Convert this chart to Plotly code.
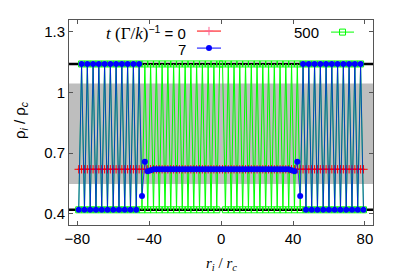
import plotly.graph_objects as go

# positions r_i / r_c
r = [
    -79.2, -77.6, -76.0, -74.4, -72.8, -71.2, -69.6, -68.0, -66.4, -64.8,
    -63.2, -61.6, -60.0, -58.4, -56.8, -55.2, -53.6, -52.0, -50.4, -48.8,
    -47.2, -45.6, -44.0, -42.4, -40.8, -39.2, -37.6, -36.0, -34.4, -32.8,
    -31.2, -29.6, -28.0, -26.4, -24.8, -23.2, -21.6, -20.0, -18.4, -16.8,
    -15.2, -13.6, -12.0, -10.4, -8.8, -7.2, -5.6, -4.0, -2.4, -0.8,
    0.8, 2.4, 4.0, 5.6, 7.2, 8.8, 10.4, 12.0, 13.6, 15.2,
    16.8, 18.4, 20.0, 21.6, 23.2, 24.8, 26.4, 28.0, 29.6, 31.2,
    32.8, 34.4, 36.0, 37.6, 39.2, 40.8, 42.4, 44.0, 45.6, 47.2,
    48.8, 50.4, 52.0, 53.6, 55.2, 56.8, 58.4, 60.0, 61.6, 63.2,
    64.8, 66.4, 68.0, 69.6, 71.2, 72.8, 74.4, 76.0, 77.6, 79.2,
]

# t = 0
rho_t0 = [
    0.62, 0.62, 0.62, 0.62, 0.62, 0.62, 0.62, 0.62, 0.62, 0.62,
    0.62, 0.62, 0.62, 0.62, 0.62, 0.62, 0.62, 0.62, 0.62, 0.62,
    0.62, 0.62, 0.62, 0.62, 0.62, 0.62, 0.62, 0.62, 0.62, 0.62,
    0.62, 0.62, 0.62, 0.62, 0.62, 0.62, 0.62, 0.62, 0.62, 0.62,
    0.62, 0.62, 0.62, 0.62, 0.62, 0.62, 0.62, 0.62, 0.62, 0.62,
    0.62, 0.62, 0.62, 0.62, 0.62, 0.62, 0.62, 0.62, 0.62, 0.62,
    0.62, 0.62, 0.62, 0.62, 0.62, 0.62, 0.62, 0.62, 0.62, 0.62,
    0.62, 0.62, 0.62, 0.62, 0.62, 0.62, 0.62, 0.62, 0.62, 0.62,
    0.62, 0.62, 0.62, 0.62, 0.62, 0.62, 0.62, 0.62, 0.62, 0.62,
    0.62, 0.62, 0.62, 0.62, 0.62, 0.62, 0.62, 0.62, 0.62, 0.62,
]

# t = 7
rho_t7 = [
    0.42, 1.14, 0.42, 1.14, 0.42, 1.14, 0.42, 1.14, 0.42, 1.14,
    0.42, 1.14, 0.42, 1.14, 0.42, 1.14, 0.42, 1.14, 0.42, 1.14,
    0.42, 1.14, 0.488, 0.657, 0.61, 0.615, 0.62, 0.62, 0.62, 0.62,
    0.62, 0.62, 0.62, 0.62, 0.62, 0.62, 0.62, 0.62, 0.62, 0.62,
    0.62, 0.62, 0.62, 0.62, 0.62, 0.62, 0.62, 0.62, 0.62, 0.62,
    0.62, 0.62, 0.62, 0.62, 0.62, 0.62, 0.62, 0.62, 0.62, 0.62,
    0.62, 0.62, 0.62, 0.62, 0.62, 0.62, 0.62, 0.62, 0.62, 0.62,
    0.62, 0.62, 0.62, 0.62, 0.615, 0.61, 0.657, 0.488, 1.14, 0.42,
    1.14, 0.42, 1.14, 0.42, 1.14, 0.42, 1.14, 0.42, 1.14, 0.42,
    1.14, 0.42, 1.14, 0.42, 1.14, 0.42, 1.14, 0.42, 1.14, 0.42,
]

# t = 500
rho_t500 = [
    0.42, 1.14, 0.42, 1.14, 0.42, 1.14, 0.42, 1.14, 0.42, 1.14,
    0.42, 1.14, 0.42, 1.14, 0.42, 1.14, 0.42, 1.14, 0.42, 1.14,
    0.42, 1.14, 0.42, 1.14, 0.42, 1.14, 0.42, 1.14, 0.42, 1.14,
    0.42, 1.14, 0.42, 1.14, 0.42, 1.14, 0.42, 1.14, 0.42, 1.14,
    0.42, 1.14, 0.42, 1.14, 0.42, 1.14, 0.42, 1.14, 0.42, 1.14,
    1.14, 0.42, 1.14, 0.42, 1.14, 0.42, 1.14, 0.42, 1.14, 0.42,
    1.14, 0.42, 1.14, 0.42, 1.14, 0.42, 1.14, 0.42, 1.14, 0.42,
    1.14, 0.42, 1.14, 0.42, 1.14, 0.42, 1.14, 0.42, 1.14, 0.42,
    1.14, 0.42, 1.14, 0.42, 1.14, 0.42, 1.14, 0.42, 1.14, 0.42,
    1.14, 0.42, 1.14, 0.42, 1.14, 0.42, 1.14, 0.42, 1.14, 0.42,
]

binodal = [0.42, 1.14]
spinodal = [0.547, 1.043]
x_ticks = [-80, -40, 0, 40, 80]
y_ticks = [0.4, 0.7, 1.0, 1.3]
y_ticklabels = ["0.4", "0.7", "1", "1.3"]
x_range = [-84.6, 84.5]
y_range = [0.345, 1.357]

RED, BLUE, GREEN = "#ff0000", "#0000ff", "#00ff00"
FRAME = "#555555"
SANS = "Liberation Sans, Arial, sans-serif"
SERIF = "Liberation Serif, Times New Roman, serif"

fig = go.Figure()

# binodal lines across the full width
for b in binodal:
    fig.add_trace(go.Scatter(x=x_range, y=[b, b], mode="lines",
                             line=dict(color="black", width=2.5),
                             showlegend=False, hoverinfo="skip"))

fig.add_trace(go.Scatter(x=r, y=rho_t500, mode="lines+markers",
                         line=dict(color=GREEN, width=1),
                         marker=dict(symbol="square-open", size=6,
                                     color=GREEN, line=dict(width=1, color=GREEN)),
                         showlegend=False))
fig.add_trace(go.Scatter(x=r, y=rho_t0, mode="lines+markers",
                         line=dict(color=RED, width=1),
                         marker=dict(symbol="cross-thin-open", size=6,
                                     line=dict(width=1, color=RED)),
                         showlegend=False))
fig.add_trace(go.Scatter(x=r, y=rho_t7, mode="lines+markers",
                         line=dict(color=BLUE, width=0.7),
                         marker=dict(symbol="circle", size=6, color=BLUE),
                         showlegend=False))

# legend samples on an overlay axis in plot-fraction coordinates
leg_x = [[0.421, 0.5], [0.421, 0.5], [0.862, 0.9375]]
leg_y = [0.946, 0.863, 0.941]
leg_sty = [
    (RED, dict(symbol="cross-thin-open", size=6, line=dict(width=1, color=RED))),
    (BLUE, dict(symbol="circle", size=6, color=BLUE)),
    (GREEN, dict(symbol="square-open", size=6, color=GREEN, line=dict(width=1, color=GREEN))),
]
for (xs, yy, (c, m)) in zip(leg_x, leg_y, leg_sty):
    fig.add_trace(go.Scatter(x=xs, y=[yy, yy], xaxis="x2", yaxis="y2", mode="lines",
                             line=dict(color=c, width=1), showlegend=False, hoverinfo="skip"))
    fig.add_trace(go.Scatter(x=[sum(xs) / 2], y=[yy], xaxis="x2", yaxis="y2", mode="markers",
                             marker=m, showlegend=False, hoverinfo="skip"))

fig.add_shape(type="rect", xref="paper", yref="y", x0=0, x1=1,
              y0=spinodal[0], y1=spinodal[1], fillcolor="#bebebe",
              line=dict(width=0), layer="below")

axis_common = dict(showgrid=False, zeroline=False, showline=True, linecolor=FRAME,
                   linewidth=1, mirror="allticks", ticks="inside", ticklen=4,
                   tickcolor=FRAME, tickfont=dict(family=SANS, size=15, color="black"))
fig.update_layout(
    width=399, height=279,
    margin=dict(l=69, r=26, t=20, b=54),
    paper_bgcolor="white", plot_bgcolor="white",
    xaxis=dict(range=x_range, tickvals=x_ticks, **axis_common),
    yaxis=dict(range=y_range, tickvals=y_ticks, ticktext=y_ticklabels, **axis_common),
    xaxis2=dict(overlaying="x", range=[0, 1], visible=False),
    yaxis2=dict(overlaying="y", range=[0, 1], visible=False),
)

ann = [
    dict(x=0.391, y=0.937, xanchor="right", yanchor="middle",
         text=("<span style='font-family:Liberation Serif;font-size:17px'>"
               "<i>t</i> (Γ/<i>k</i>)</span><sup>−1</sup> = 0"),
         font=dict(family=SANS, size=15, color="black")),
    dict(x=0.391, y=0.858, xanchor="right", yanchor="middle", text="7",
         font=dict(family=SANS, size=15, color="black")),
    dict(x=0.829, y=0.94, xanchor="right", yanchor="middle", text="500",
         font=dict(family=SANS, size=15, color="black")),
]
for a in ann:
    fig.add_annotation(xref="x2", yref="y2", showarrow=False, **a)

fig.add_annotation(xref="paper", yref="paper", x=-0.161, y=0.512, showarrow=False,
                   textangle=-90, xanchor="center", yanchor="middle",
                   text="ρ<sub><i>i</i></sub> / ρ<sub><i>c</i></sub>",
                   font=dict(family=SANS, size=15, color="black"))
fig.add_annotation(xref="paper", yref="paper", x=0.503, y=-0.19, showarrow=False,
                   xanchor="center", yanchor="middle",
                   text="<i>r<sub>i</sub></i> / <i>r<sub>c</sub></i>",
                   font=dict(family=SERIF, size=15, color="black"))

fig.write_html("out.html", config={"displayModeBar": False},
               post_script="document.body.style.margin='0';document.body.style.overflow='hidden';")
